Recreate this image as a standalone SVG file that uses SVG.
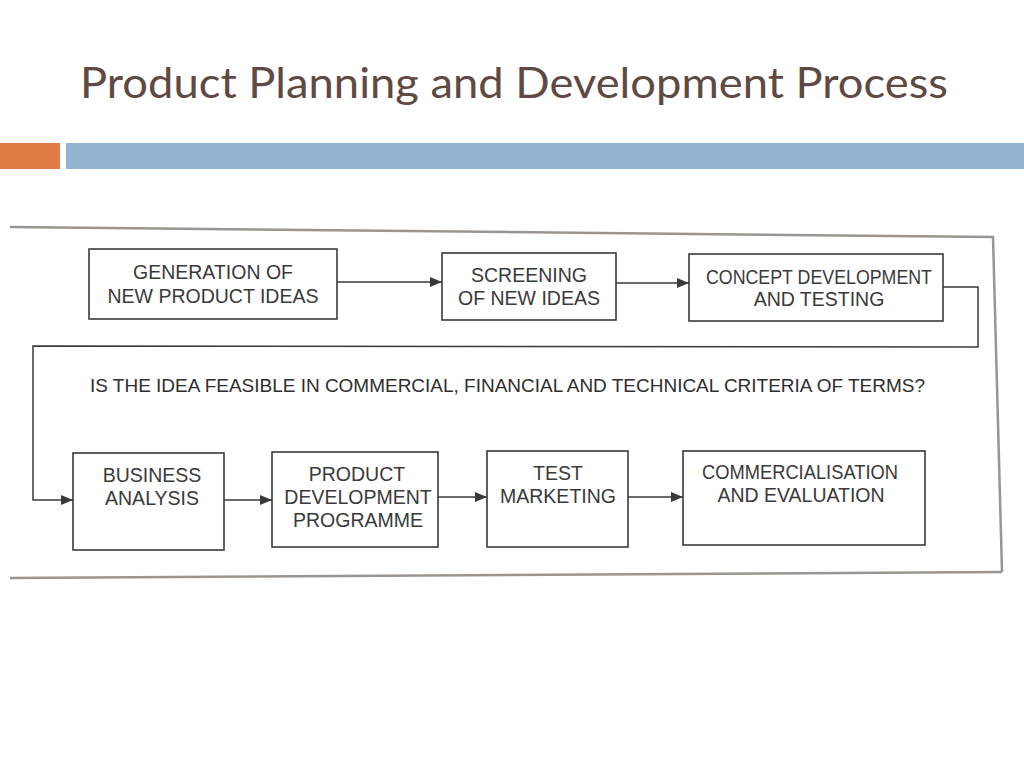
<svg xmlns="http://www.w3.org/2000/svg" width="1024" height="768" viewBox="0 0 1024 768">
<defs>
<style>
.box{fill:#ffffff;stroke:#3a3a3a;stroke-width:1.6}
.lbl{font-family:"Liberation Sans",Arial,sans-serif;font-size:19.5px;fill:#3a3a3a;text-anchor:middle}
.con{fill:none;stroke:#3a3a3a;stroke-width:1.5}
.frame{fill:none;stroke:#9a9590;stroke-width:2.5}
</style>
<marker id="ah" viewBox="0 0 12 10" refX="12" refY="5" markerWidth="12" markerHeight="10" markerUnits="userSpaceOnUse" orient="auto">
<path d="M0,0 L12,5 L0,10 Z" fill="#3a3a3a"/>
</marker>
</defs>
<rect width="1024" height="768" fill="#ffffff"/>
<text x="80" y="98" font-family="Lato,'Open Sans',sans-serif" font-size="42" fill="#5e4a42" textLength="868" lengthAdjust="spacingAndGlyphs">Product Planning and Development Process</text>
<rect x="0" y="143" width="60" height="26" fill="#e07b45"/>
<rect x="66" y="143" width="958" height="26" fill="#93b3d3"/>
<g id="frame">
<path class="frame" d="M10,227 L993,237 L1002,572"/>
<path class="frame" d="M10,578 L1002,572"/>
</g>
<g id="connectors">
<line class="con" x1="337" y1="282" x2="442" y2="282" marker-end="url(#ah)"/>
<line class="con" x1="616" y1="283" x2="689" y2="283" marker-end="url(#ah)"/>
<polyline class="con" points="943,287 978,287 978,347 33,346 33,500 73,500" marker-end="url(#ah)"/>
<line class="con" x1="224" y1="500" x2="272" y2="500" marker-end="url(#ah)"/>
<line class="con" x1="438" y1="497" x2="487" y2="497" marker-end="url(#ah)"/>
<line class="con" x1="628" y1="497" x2="683" y2="497" marker-end="url(#ah)"/>
</g>
<g id="n1"><rect class="box" x="89" y="249" width="248" height="70"/><text class="lbl" x="213" y="279">GENERATION OF</text><text class="lbl" x="213" y="303">NEW PRODUCT IDEAS</text></g>
<g id="n2"><rect class="box" x="442" y="253" width="174" height="67"/><text class="lbl" x="529" y="282">SCREENING</text><text class="lbl" x="529" y="305">OF NEW IDEAS</text></g>
<g id="n3"><rect class="box" x="689" y="254" width="254" height="67"/><text class="lbl" x="819" y="284" textLength="226" lengthAdjust="spacingAndGlyphs">CONCEPT DEVELOPMENT</text><text class="lbl" x="819" y="306">AND TESTING</text></g>
<g id="q"><text x="90" y="392" font-family="'Liberation Sans',Arial,sans-serif" font-size="18" fill="#2e2e2e" textLength="835" lengthAdjust="spacingAndGlyphs">IS THE IDEA FEASIBLE IN COMMERCIAL, FINANCIAL AND TECHNICAL CRITERIA OF TERMS?</text></g>
<g id="n4"><rect class="box" x="73" y="453" width="151" height="97"/><text class="lbl" x="152" y="482">BUSINESS</text><text class="lbl" x="152" y="505">ANALYSIS</text></g>
<g id="n5"><rect class="box" x="272" y="452" width="166" height="95"/><text class="lbl" x="357" y="481">PRODUCT</text><text class="lbl" x="358" y="504">DEVELOPMENT</text><text class="lbl" x="358" y="527">PROGRAMME</text></g>
<g id="n6"><rect class="box" x="487" y="451" width="141" height="96"/><text class="lbl" x="558" y="480">TEST</text><text class="lbl" x="558" y="503">MARKETING</text></g>
<g id="n7"><rect class="box" x="683" y="451" width="242" height="94"/><text class="lbl" x="800" y="479" textLength="196" lengthAdjust="spacingAndGlyphs">COMMERCIALISATION</text><text class="lbl" x="801" y="502">AND EVALUATION</text></g>
</svg>
